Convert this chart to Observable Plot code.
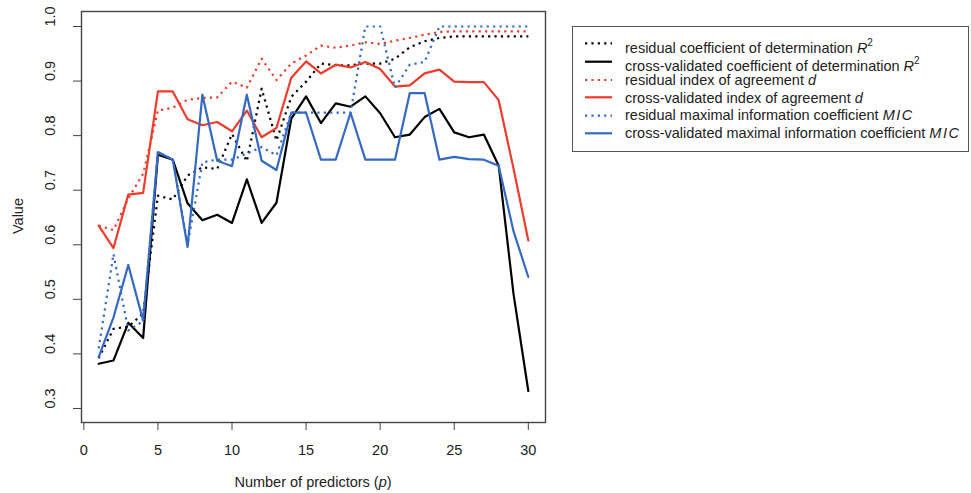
<!DOCTYPE html>
<html>
<head>
<meta charset="utf-8">
<script src="https://cdn.jsdelivr.net/npm/d3@7"></script>
<script src="https://cdn.jsdelivr.net/npm/@observablehq/plot@0.6"></script>
<style>
  html, body { margin: 0; padding: 0; background: #fff; }
  #wrap { position: relative; width: 971px; height: 493px; font-family: "Liberation Sans", Arial, sans-serif; color: #222; }
  .lbl { position: absolute; font-size: 14.5px; white-space: nowrap; line-height: 17px; }
  #legend { position: absolute; left: 572px; top: 26px; width: 397px; height: 126px; border: 1.5px solid #555; box-sizing: border-box; }
  .row { position: absolute; left: 52px; font-size: 14.5px; line-height: 17px; white-space: nowrap; }
  .row sup { font-size: 10px; vertical-align: 7px; line-height: 0; }
  .mic { font-style: italic; letter-spacing: 1.5px; }
  svg.samp { position: absolute; left: 0; top: 0; }
</style>
</head>
<body>
<div id="wrap"></div>
<script>
// ---- data ----
const predictors = [1,2,3,4,5,6,7,8,9,10,11,12,13,14,15,16,17,18,19,20,21,22,23,24,25,26,27,28,29,30];

const residualR2 = [0.392,0.446,0.450,0.474,0.690,0.683,0.727,0.742,0.739,0.803,0.753,0.886,0.791,0.871,0.899,0.932,0.929,0.929,0.932,0.932,0.941,0.962,0.973,0.979,0.982,0.982,0.982,0.982,0.982,0.982];
const cvR2 = [0.382,0.388,0.457,0.429,0.765,0.756,0.676,0.645,0.655,0.640,0.720,0.640,0.677,0.831,0.872,0.823,0.859,0.853,0.872,0.841,0.797,0.802,0.834,0.849,0.806,0.797,0.802,0.745,0.510,0.332];
const residualD = [0.635,0.627,0.685,0.730,0.846,0.851,0.866,0.869,0.870,0.899,0.888,0.941,0.902,0.932,0.947,0.965,0.961,0.965,0.971,0.968,0.974,0.979,0.985,0.990,0.991,0.991,0.991,0.991,0.991,0.991];
const cvD = [0.635,0.594,0.692,0.695,0.881,0.881,0.830,0.819,0.825,0.808,0.846,0.797,0.814,0.906,0.936,0.914,0.930,0.925,0.935,0.922,0.890,0.892,0.914,0.921,0.899,0.898,0.898,0.865,0.740,0.608];
const residualMIC = [0.410,0.583,0.443,0.460,0.770,0.756,0.600,0.751,0.756,0.756,0.767,0.779,0.764,0.842,0.842,0.842,0.842,0.842,1.000,1.000,0.888,0.930,0.935,1.000,1.000,1.000,1.000,1.000,1.000,1.000];
const cvMIC = [0.394,0.467,0.563,0.461,0.770,0.756,0.596,0.875,0.754,0.744,0.875,0.754,0.737,0.842,0.842,0.756,0.756,0.842,0.756,0.756,0.756,0.878,0.878,0.756,0.761,0.757,0.756,0.745,0.625,0.541];

const xTicks = [0,5,10,15,20,25,30];
const yTicks = [0.3,0.4,0.5,0.6,0.7,0.8,0.9,1.0];

const seriesNames = [
  "residual coefficient of determination R2",
  "cross-validated coefficient of determination R2",
  "residual index of agreement d",
  "cross-validated index of agreement d",
  "residual maximal information coefficient MIC",
  "cross-validated maximal information coefficient MIC"
];
const seriesValues = [residualR2, cvR2, residualD, cvD, residualMIC, cvMIC];

// ---- styles ----
const RED = "#ef3b2c", BLUE = "#3469c4", BLACK = "#000";
const styles = [
  {stroke: BLACK, dash: "2.2,4.2"},
  {stroke: BLACK, dash: null},
  {stroke: RED, dash: "2.2,4.2"},
  {stroke: RED, dash: null},
  {stroke: BLUE, dash: "2.2,4.2"},
  {stroke: BLUE, dash: null}
];

const lineMarks = seriesValues.map((vals, i) => {
  const rows = predictors.map((p, j) => ({p, v: vals[j], s: seriesNames[i]}));
  return Plot.line(rows, {
    x: "p", y: "v",
    stroke: styles[i].stroke,
    strokeWidth: 2.2,
    strokeDasharray: styles[i].dash,
    strokeLinecap: styles[i].dash ? "butt" : "round",
    strokeLinejoin: "round"
  });
});

const chart = Plot.plot({
  width: 971,
  height: 493,
  marginLeft: 81,
  marginRight: 426,
  marginTop: 11,
  marginBottom: 71,
  x: {domain: [-0.16, 31.16]},
  y: {domain: [0.2743, 1.0275]},
  style: {fontFamily: "'Liberation Sans', Arial, sans-serif", fontSize: "14.5px", color: "#222", background: "transparent"},
  marks: [
    Plot.axisX({ticks: xTicks, tickSize: 8, tickPadding: 14, label: null, stroke: "#444", fontSize: 14.5}),
    Plot.axisY({ticks: yTicks, tickSize: 8, tickFormat: () => "", label: null, stroke: "#444"}),
    Plot.text(yTicks, {y: d => d, text: d => d.toFixed(1), frameAnchor: "left", dx: -31, rotate: -90, fontSize: 14.5, fill: "#222"}),
    ...lineMarks,
    Plot.frame({stroke: "#444", strokeWidth: 1.4})
  ]
});

const wrap = document.getElementById("wrap");
chart.style.position = "absolute";
chart.style.left = "0px";
chart.style.top = "0px";
wrap.appendChild(chart);

// axis titles
const xt = document.createElement("div");
xt.className = "lbl";
xt.innerHTML = "Number of predictors (<i>p</i>)";
xt.style.left = "313px"; xt.style.top = "474px"; xt.style.transform = "translateX(-50%)";
wrap.appendChild(xt);

const yt = document.createElement("div");
yt.className = "lbl";
yt.textContent = "Value";
yt.style.left = "18px"; yt.style.top = "216px";
yt.style.transform = "translate(-50%,-50%) rotate(-90deg)";
wrap.appendChild(yt);

// legend
const legend = document.createElement("div");
legend.id = "legend";
wrap.appendChild(legend);
const legendHTML = [
  "residual coefficient of determination <i>R</i><sup>2</sup>",
  "cross-validated coefficient of determination <i>R</i><sup>2</sup>",
  "residual index of agreement <i>d</i>",
  "cross-validated index of agreement <i>d</i>",
  "residual maximal information coefficient <span class='mic'>MIC</span>",
  "cross-validated maximal information coefficient <span class='mic'>MIC</span>"
];
const lineY = [43.3, 61.7, 80, 97.3, 115.7, 133.3];
const textY = [49, 66.5, 80.7, 98.5, 115.8, 133.5];
const ns = "http://www.w3.org/2000/svg";
const samp = document.createElementNS(ns, "svg");
samp.setAttribute("class", "samp");
samp.setAttribute("width", 60);
samp.setAttribute("height", 126);
samp.style.left = "-1.5px"; samp.style.top = "-1.5px";
legend.appendChild(samp);
legendHTML.forEach((h, i) => {
  const ly = lineY[i] - 26;
  const ln = document.createElementNS(ns, "line");
  ln.setAttribute("x1", 13); ln.setAttribute("x2", 40);
  ln.setAttribute("y1", ly); ln.setAttribute("y2", ly);
  ln.setAttribute("stroke", styles[i].stroke);
  ln.setAttribute("stroke-width", 2.2);
  if (styles[i].dash) ln.setAttribute("stroke-dasharray", styles[i].dash);
  samp.appendChild(ln);
  const r = document.createElement("div");
  r.className = "row";
  r.innerHTML = h;
  r.style.top = (textY[i] - 26 - 8.5 - 1.5) + "px";
  legend.appendChild(r);
});
</script>
</body>
</html>
